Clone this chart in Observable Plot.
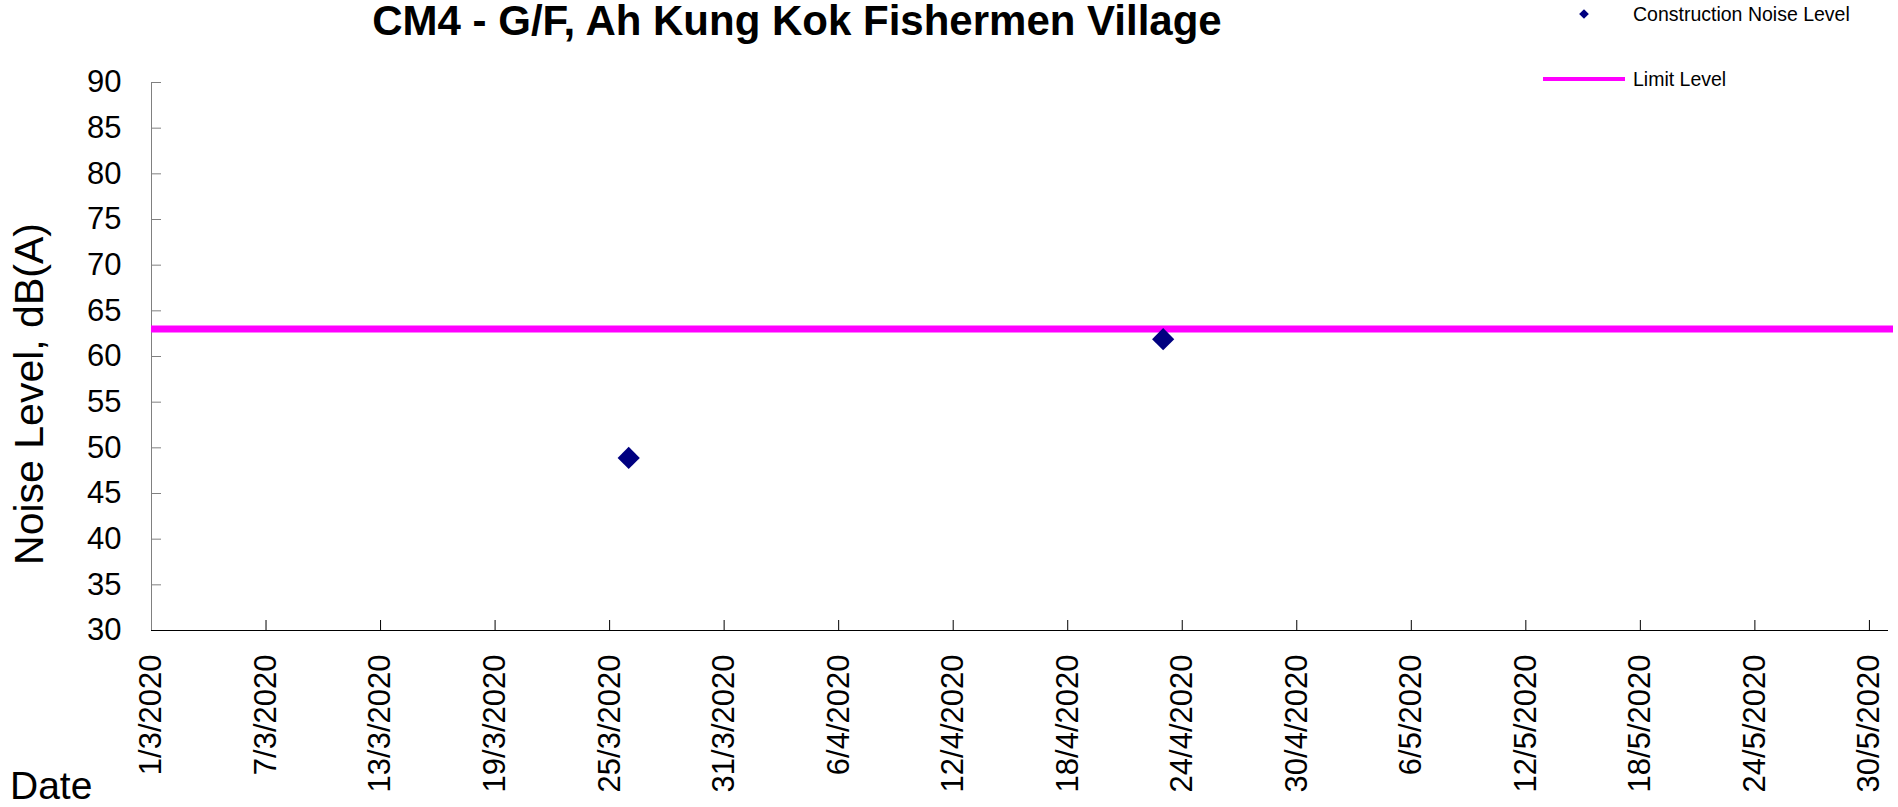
<!DOCTYPE html>
<html><head><meta charset="utf-8">
<script src="https://cdn.jsdelivr.net/npm/d3@7"></script>
<script src="https://cdn.jsdelivr.net/npm/@observablehq/plot@0.6"></script>
<style>
body{margin:0;background:#fff;}
#wrap{position:relative;width:1898px;height:807px;}
</style></head><body><div id="wrap"></div>
<script>
const titleText = "CM4 - G/F, Ah Kung Kok Fishermen Village";
const yLabel = "Noise Level, dB(A)";
const xLabel = "Date";
const seriesNames = ["Construction Noise Level", "Limit Level"];
const dates = ["2020-03-26", "2020-04-23"];
const noiseLevels = [48.9, 61.9];
const limitLevel = [63];
const yTicks = [30, 35, 40, 45, 50, 55, 60, 65, 70, 75, 80, 85, 90];
const xTickDates = ["2020-03-01","2020-03-07","2020-03-13","2020-03-19","2020-03-25","2020-03-31",
  "2020-04-06","2020-04-12","2020-04-18","2020-04-24","2020-04-30","2020-05-06","2020-05-12",
  "2020-05-18","2020-05-24","2020-05-30"];
const xDomain = ["2020-03-01", "2020-05-31"];
const yDomain = [30, 90];

const parse = d3.utcParse("%Y-%m-%d");
const data = dates.map((d, i) => ({date: parse(d), level: noiseLevels[i]}));
const xTicks = xTickDates.map(parse);
const font = '"Liberation Sans", Arial, sans-serif';

const chart = Plot.plot({
  width: 1898, height: 807,
  marginLeft: 151, marginRight: 10, marginTop: 82, marginBottom: 177,
  style: {fontFamily: font, fontSize: "31px", color: "#000", background: "#fff", overflow: "visible"},
  x: {type: "utc", domain: xDomain.map(parse)},
  y: {domain: yDomain},
  marks: [
    Plot.axisY(yTicks, {tickSize: 0, tickPadding: 30, label: null, fontSize: 31}),
    Plot.axisX(xTicks, {tickSize: 0, tickPadding: 24, tickRotate: -90, tickFormat: d3.utcFormat("%-d/%-m/%Y"), label: null, fontSize: 31}),
    Plot.ruleY(yTicks, {stroke: "#808080", insetRight: 1727}),
    Plot.ruleX(xTicks, {stroke: "#000", insetTop: 538}),
    Plot.ruleX([parse(xDomain[0])], {stroke: "#808080"}),
    Plot.ruleY([yDomain[0]], {stroke: "#000"}),
    Plot.ruleY(limitLevel, {stroke: "#FF00FF", strokeWidth: 7, insetRight: -5}),
    Plot.dot(data, {x: "date", y: "level", symbol: "diamond2", r: 10, fill: "#000080", stroke: "none"})
  ]
});
document.getElementById("wrap").appendChild(chart);

const svg = d3.select(chart);
const g = svg.append("g").attr("font-family", font).attr("fill", "#000").attr("text-anchor", "start");
g.append("text").attr("x", 797).attr("y", 35).attr("text-anchor", "middle")
  .attr("font-weight", "bold").attr("font-size", 42).text(titleText);
g.append("text").attr("transform", "translate(43,394) rotate(-90)").attr("text-anchor", "middle")
  .attr("font-size", 41).text(yLabel);
g.append("text").attr("x", 10).attr("y", 799).attr("text-anchor", "start").attr("font-size", 39).text(xLabel);
// legend
g.append("path").attr("transform", "translate(1584,14)")
  .attr("d", d3.symbol(d3.symbolDiamond2, 60)()).attr("fill", "#000080");
g.append("text").attr("x", 1633).attr("y", 21).attr("text-anchor", "start").attr("font-size", 19.5).text(seriesNames[0]);
g.append("line").attr("x1", 1543).attr("x2", 1625).attr("y1", 79).attr("y2", 79)
  .attr("stroke", "#FF00FF").attr("stroke-width", 4);
g.append("text").attr("x", 1633).attr("y", 86).attr("text-anchor", "start").attr("font-size", 19.5).text(seriesNames[1]);
</script></body></html>
